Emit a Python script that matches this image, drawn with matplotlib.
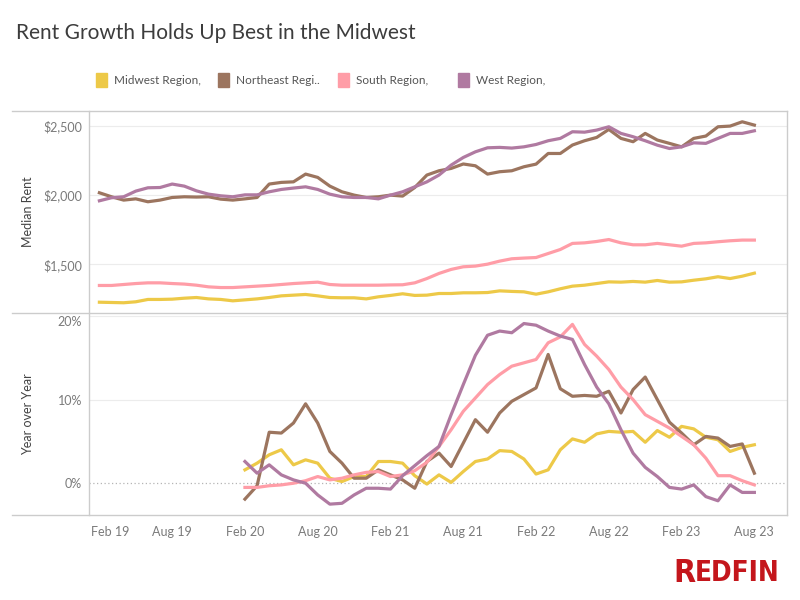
import matplotlib
matplotlib.use('Agg')
import matplotlib.pyplot as plt
import matplotlib.transforms as mtransforms
from matplotlib.patches import Rectangle
from matplotlib.lines import Line2D
import numpy as np
import pandas as pd

# monthly data, Feb 2019 .. Aug 2023
months = pd.date_range('2019-02-01', '2023-08-01', freq='MS')
yoy_months = months[12:]

regions = ['Midwest Region,', 'Northeast Regi..', 'South Region,', 'West Region,']
colors = ['#edc948', '#9c755f', '#ff9da7', '#b07aa1']

midwest_rent = [1226, 1224, 1222, 1229, 1246, 1246, 1248, 1255, 1260, 1250, 1246, 1236, 1243,
                1250, 1260, 1272, 1277, 1282, 1272, 1260, 1258, 1258, 1250, 1265, 1275,
                1287, 1275, 1277, 1289, 1289, 1294, 1294, 1296, 1308, 1304, 1301, 1284, 1301,
                1323, 1342, 1349, 1361, 1373, 1371, 1376, 1371, 1383, 1371, 1373, 1385, 1395,
                1410, 1397, 1414, 1436]
northeast_rent = [2017, 1988, 1964, 1973, 1952, 1964, 1983, 1988, 1986, 1988, 1971, 1964, 1973,
                  1983, 2080, 2092, 2096, 2152, 2128, 2065, 2024, 2000, 1983, 1988, 2000,
                  1993, 2055, 2145, 2176, 2193, 2225, 2212, 2152, 2169, 2176, 2205, 2224, 2301,
                  2301, 2362, 2393, 2417, 2475, 2410, 2386, 2446, 2398, 2374, 2349, 2410, 2427,
                  2494, 2499, 2530, 2506]
south_rent = [1347, 1347, 1354, 1361, 1366, 1366, 1361, 1357, 1349, 1337, 1332, 1332, 1337,
              1342, 1347, 1354, 1361, 1366, 1371, 1354, 1349, 1349, 1349, 1349, 1351,
              1352, 1366, 1397, 1434, 1463, 1482, 1487, 1501, 1523, 1540, 1545, 1549, 1578,
              1607, 1651, 1655, 1665, 1679, 1655, 1641, 1641, 1651, 1641, 1631, 1651, 1655,
              1663, 1670, 1675, 1675]
west_rent = [1959, 1981, 1988, 2029, 2053, 2055, 2080, 2065, 2031, 2007, 1995, 1988, 2002,
             2002, 2024, 2041, 2051, 2060, 2041, 2007, 1988, 1983, 1983, 1973, 2000,
             2024, 2060, 2096, 2145, 2217, 2272, 2313, 2342, 2345, 2340, 2349, 2366, 2393,
             2410, 2458, 2455, 2470, 2494, 2446, 2422, 2393, 2361, 2337, 2349, 2378, 2374,
             2410, 2446, 2446, 2465]

# year over year change, %, Feb 2020 .. Aug 2023
midwest_yoy = [1.6, 2.4, 3.4, 4.0, 2.2, 2.8, 2.4, 0.6, 0.2, 0.8, 0.8, 2.6, 2.6,
               2.4, 0.9, -0.1, 1.0, 0.1, 1.4, 2.6, 2.9, 3.9, 3.8,
               2.9, 1.1, 1.6, 4.0, 5.3, 4.9, 5.9, 6.2, 6.1, 6.2,
               4.9, 6.3, 5.5, 6.8, 6.5, 5.5, 5.2, 3.8, 4.3, 4.6]
northeast_yoy = [-1.9, -0.3, 6.1, 6.0, 7.2, 9.5, 7.2, 3.8, 2.4, 0.6, 0.6, 1.6, 1.0,
                 0.4, -0.6, 2.6, 3.6, 2.0, 4.8, 7.6, 6.1, 8.4, 9.8,
                 10.6, 11.4, 15.4, 11.3, 10.4, 10.5, 10.4, 11.0, 8.4, 11.2,
                 12.7, 10.0, 7.3, 6.0, 4.6, 5.6, 5.4, 4.4, 4.7, 1.2]
south_yoy = [-0.5, -0.5, -0.3, -0.2, 0.0, 0.3, 0.8, 0.4, 0.6, 1.0, 1.3, 1.4, 0.8,
             1.0, 1.5, 2.5, 4.4, 6.4, 8.6, 10.2, 11.8, 13.0, 14.0,
             14.4, 14.8, 16.8, 17.5, 19.0, 16.6, 15.2, 13.6, 11.5, 10.0,
             8.2, 7.4, 6.6, 5.6, 4.6, 3.0, 0.9, 0.9, 0.3, -0.2]
west_yoy = [2.6, 1.2, 2.2, 1.0, 0.4, 0.0, -1.4, -2.5, -2.4, -1.4, -0.6, -0.6, -0.7,
            0.9, 2.1, 3.3, 4.4, 8.2, 11.8, 15.3, 17.7, 18.2, 18.0,
            19.1, 18.9, 18.2, 17.6, 17.2, 14.2, 11.5, 9.5, 6.4, 3.6,
            1.9, 0.8, -0.5, -0.7, -0.2, -1.6, -2.1, -0.2, -1.1, -1.1]

rent_ticks = [1500, 2000, 2500]
yoy_ticks = [0, 10, 20]

rent = [midwest_rent, northeast_rent, south_rent, west_rent]
yoy = [midwest_yoy, northeast_yoy, south_yoy, west_yoy]

FONT = ['Lato', 'DejaVu Sans']
plt.rcParams['font.family'] = FONT

W, H = 800, 600
fig = plt.figure(figsize=(8, 6), dpi=100)


def fx(x):
    return x / W


def fy(y):
    return 1 - y / H


x_all = np.arange(len(months))
x_yoy = np.arange(12, len(months))
xlim = (-0.857, 56.69)

ax1 = fig.add_axes([fx(89), fy(313), fx(787) - fx(89), fy(111) - fy(313)])
ax2 = fig.add_axes([fx(89), fy(515), fx(787) - fx(89), fy(313) - fy(515)])

for ax in (ax1, ax2):
    ax.set_xlim(*xlim)
    for s in ax.spines.values():
        s.set_visible(False)
    ax.tick_params(length=0, colors='#7a7a7a', labelsize=9, pad=5)

# top panel: median rent
ax1.set_ylim(1148, 2608)
ax1.set_yticks(rent_ticks)
ax1.set_yticklabels(['${:,}'.format(v) for v in rent_ticks])
for v in rent_ticks:
    ax1.axhline(v, color='#ececec', lw=0.8, zorder=0)
for vals, c in zip(rent, colors):
    ax1.plot(x_all, vals, color=c, lw=2.3, solid_joinstyle='round')
ax1.set_xticks([])
ax1.set_ylabel('Median Rent', fontsize=9, color='#444444')
ax1.yaxis.set_label_coords((34 - 89) / 698, 0.5)

# bottom panel: year over year
ax2.set_ylim(-3.8, 20.36)
ax2.set_yticks(yoy_ticks)
ax2.set_yticklabels(['{}%'.format(v) for v in yoy_ticks])
ax2.get_yticklabels()[-1].set_verticalalignment('top')
for v in yoy_ticks[1:]:
    ax2.axhline(v, color='#ececec', lw=0.8, zorder=0)
ax2.axhline(0, color='#b5b5b5', lw=0.9, ls=(0, (1, 2)), zorder=0)
for vals, c in zip(yoy, colors):
    ax2.plot(x_yoy, vals, color=c, lw=2.3, solid_joinstyle='round')
ax2.set_ylabel('Year over Year', fontsize=9, color='#444444')
ax2.yaxis.set_label_coords((34 - 89) / 698, 0.5)

tick_pos = list(range(0, len(months), 6))
ax2.set_xticks(tick_pos)
ax2.set_xticklabels([months[i].strftime('%b %y') for i in tick_pos])
ax2.tick_params(axis='x', pad=8)
first = ax2.get_xticklabels()[0]
first.set_transform(first.get_transform() +
                    mtransforms.ScaledTranslation(0.106, 0, fig.dpi_scale_trans))

# frame lines
frame = '#cccccc'
for y in (111, 313, 515):
    fig.add_artist(Line2D([fx(12), fx(787)], [fy(y), fy(y)], color=frame, lw=1))
for x in (89, 787):
    fig.add_artist(Line2D([fx(x), fx(x)], [fy(111), fy(515)], color=frame, lw=1))

# title
fig.text(fx(16), fy(33), 'Rent Growth Holds Up Best in the Midwest',
         fontsize=15, color='#3c3c3c', va='center', ha='left')

# legend
sw_x = [96, 218, 338, 458]
for name, c, x in zip(regions, colors, sw_x):
    fig.add_artist(Rectangle((fx(x), fy(87)), 11 / W, 14 / H, color=c,
                             transform=fig.transFigure))
    fig.text(fx(x + 18), fy(80), name, fontsize=8.5, color='#555555',
             va='center', ha='left')

# logo
logo_font = dict(family=['DejaVu Sans'], fontweight='bold', fontstretch='condensed',
                 color='#c4161c', va='baseline', ha='left')
r = fig.text(fx(673), fy(582), 'R', fontsize=23, **logo_font)
fig.canvas.draw()
r_right = r.get_window_extent().x1
fig.text(r_right / W, fy(581), 'EDFIN', fontsize=20, **logo_font)

fig.savefig('out.png', dpi=100)
